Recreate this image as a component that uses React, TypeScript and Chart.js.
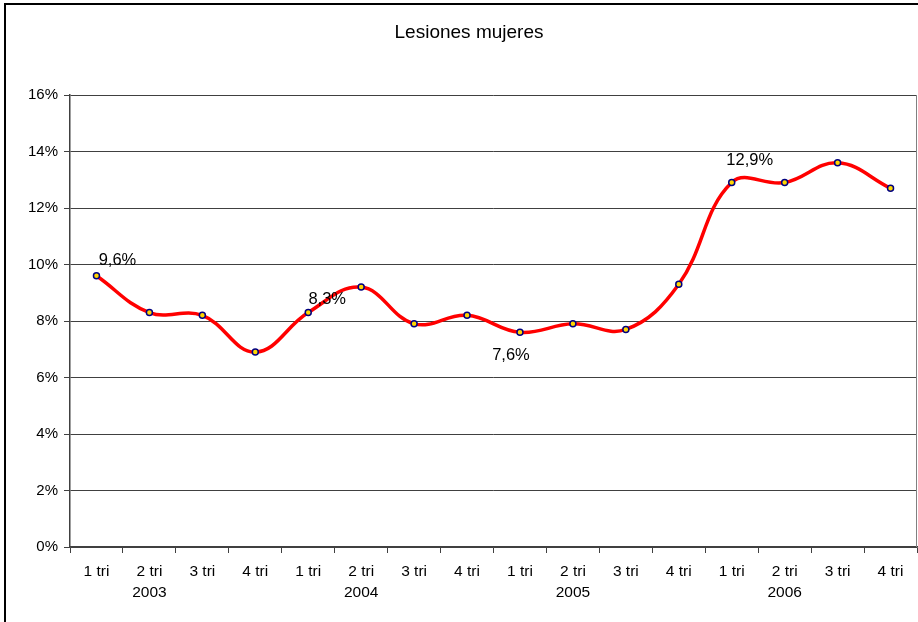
import React, { useEffect, useRef } from "react";
import { Chart, registerables } from "chart.js";

Chart.register(...registerables);

const quarters = ["1 tri", "2 tri", "3 tri", "4 tri"];
const years = ["2003", "2004", "2005", "2006"];
const values = [9.6, 8.3, 8.2, 6.9, 8.3, 9.2, 7.9, 8.2, 7.6, 7.9, 7.7, 9.3, 12.9, 12.9, 13.6, 12.7];
const labelledIndices = [0, 4, 8, 12];
const yTicks = [0, 2, 4, 6, 8, 10, 12, 14, 16];
const title = "Lesiones mujeres";

const FONT = "'Liberation Sans', Arial, sans-serif";

const fmt = (v: number) => v.toFixed(1).replace(".", ",") + "%";

export default function App() {
  const ref = useRef<HTMLCanvasElement | null>(null);

  useEffect(() => {
    document.body.style.margin = "0";
    const canvas = ref.current;
    if (!canvas) return;

    const labels: string[][] = [];
    years.forEach((y) => {
      quarters.forEach((q, i) => {
        labels.push([q, i === 1 ? y : ""]);
      });
    });

    const labelOffsets: Record<number, [number, number]> = {
      0: [21, -15],
      4: [19, -13],
      8: [-9, 23],
      12: [18, -22],
    };

    const decor = {
      id: "decor",
      beforeDraw(chart: any) {
        const ctx = chart.ctx;
        ctx.save();
        ctx.fillStyle = "#ffffff";
        ctx.fillRect(0, 0, chart.width, chart.height);
        ctx.restore();
      },
      afterDraw(chart: any) {
        const ctx = chart.ctx;
        const area = chart.chartArea;
        ctx.save();
        // outer border
        ctx.strokeStyle = "#000000";
        ctx.lineWidth = 2;
        ctx.beginPath();
        ctx.moveTo(5, chart.height);
        ctx.lineTo(5, 4);
        ctx.lineTo(chart.width, 4);
        ctx.stroke();
        // plot right border
        ctx.strokeStyle = "#808080";
        ctx.lineWidth = 1;
        ctx.beginPath();
        ctx.moveTo(Math.round(area.right) - 0.5, area.top);
        ctx.lineTo(Math.round(area.right) - 0.5, area.bottom);
        ctx.stroke();
        // title
        ctx.fillStyle = "#000000";
        ctx.font = `19px ${FONT}`;
        ctx.textAlign = "center";
        ctx.textBaseline = "middle";
        ctx.fillText(title, 469, 33);
        // data labels
        const meta = chart.getDatasetMeta(0);
        ctx.font = `16.5px ${FONT}`;
        labelledIndices.forEach((i) => {
          const pt = meta.data[i];
          const off = labelOffsets[i] || [0, -15];
          ctx.fillText(fmt(values[i]), pt.x + off[0], pt.y + off[1]);
        });
        ctx.restore();
      },
    };

    const chart = new Chart(canvas, {
      type: "line",
      data: {
        labels,
        datasets: [
          {
            data: values,
            borderColor: "#ff0000",
            borderWidth: 3.5,
            tension: 0.4,
            pointRadius: 3,
            pointBackgroundColor: "#ffd700",
            pointBorderColor: "#000080",
            pointBorderWidth: 1.5,
            fill: false,
          },
        ],
      },
      options: {
        animation: false,
        responsive: false,
        layout: { autoPadding: false, padding: { left: 5, right: 1, top: 95, bottom: 0 } },
        plugins: {
          legend: { display: false },
          title: { display: false },
          tooltip: { enabled: false },
        },
        scales: {
          x: {
            offset: true,
            grid: {
              offset: true,
              drawOnChartArea: false,
              drawTicks: true,
              tickLength: 6,
              color: "#404040",
            },
            border: { color: "#404040", width: 1.5 },
            ticks: {
              color: "#000000",
              font: { family: FONT, size: 15.5, lineHeight: 1.38 },
              maxRotation: 0,
              autoSkip: false,
              padding: 8,
            },
            afterFit: (s: any) => {
              s.height = 75;
              s.paddingLeft = 0;
              s.paddingRight = 0;
            },
          },
          y: {
            min: 0,
            max: 16,
            afterBuildTicks: (s: any) => {
              s.ticks = yTicks.map((v) => ({ value: v }));
            },
            grid: {
              color: "#404040",
              tickLength: 6,
              lineWidth: 1,
            },
            border: { color: "#404040", width: 1.5 },
            ticks: {
              color: "#000000",
              font: { family: FONT, size: 15 },
              padding: 6,
              callback: (v: any) => v + "%",
            },
            afterFit: (s: any) => {
              s.width = 65;
            },
          },
        },
      },
      plugins: [decor],
    });

    return () => chart.destroy();
  }, []);

  return <canvas ref={ref} width={918} height={622} style={{ display: "block" }} />;
}
